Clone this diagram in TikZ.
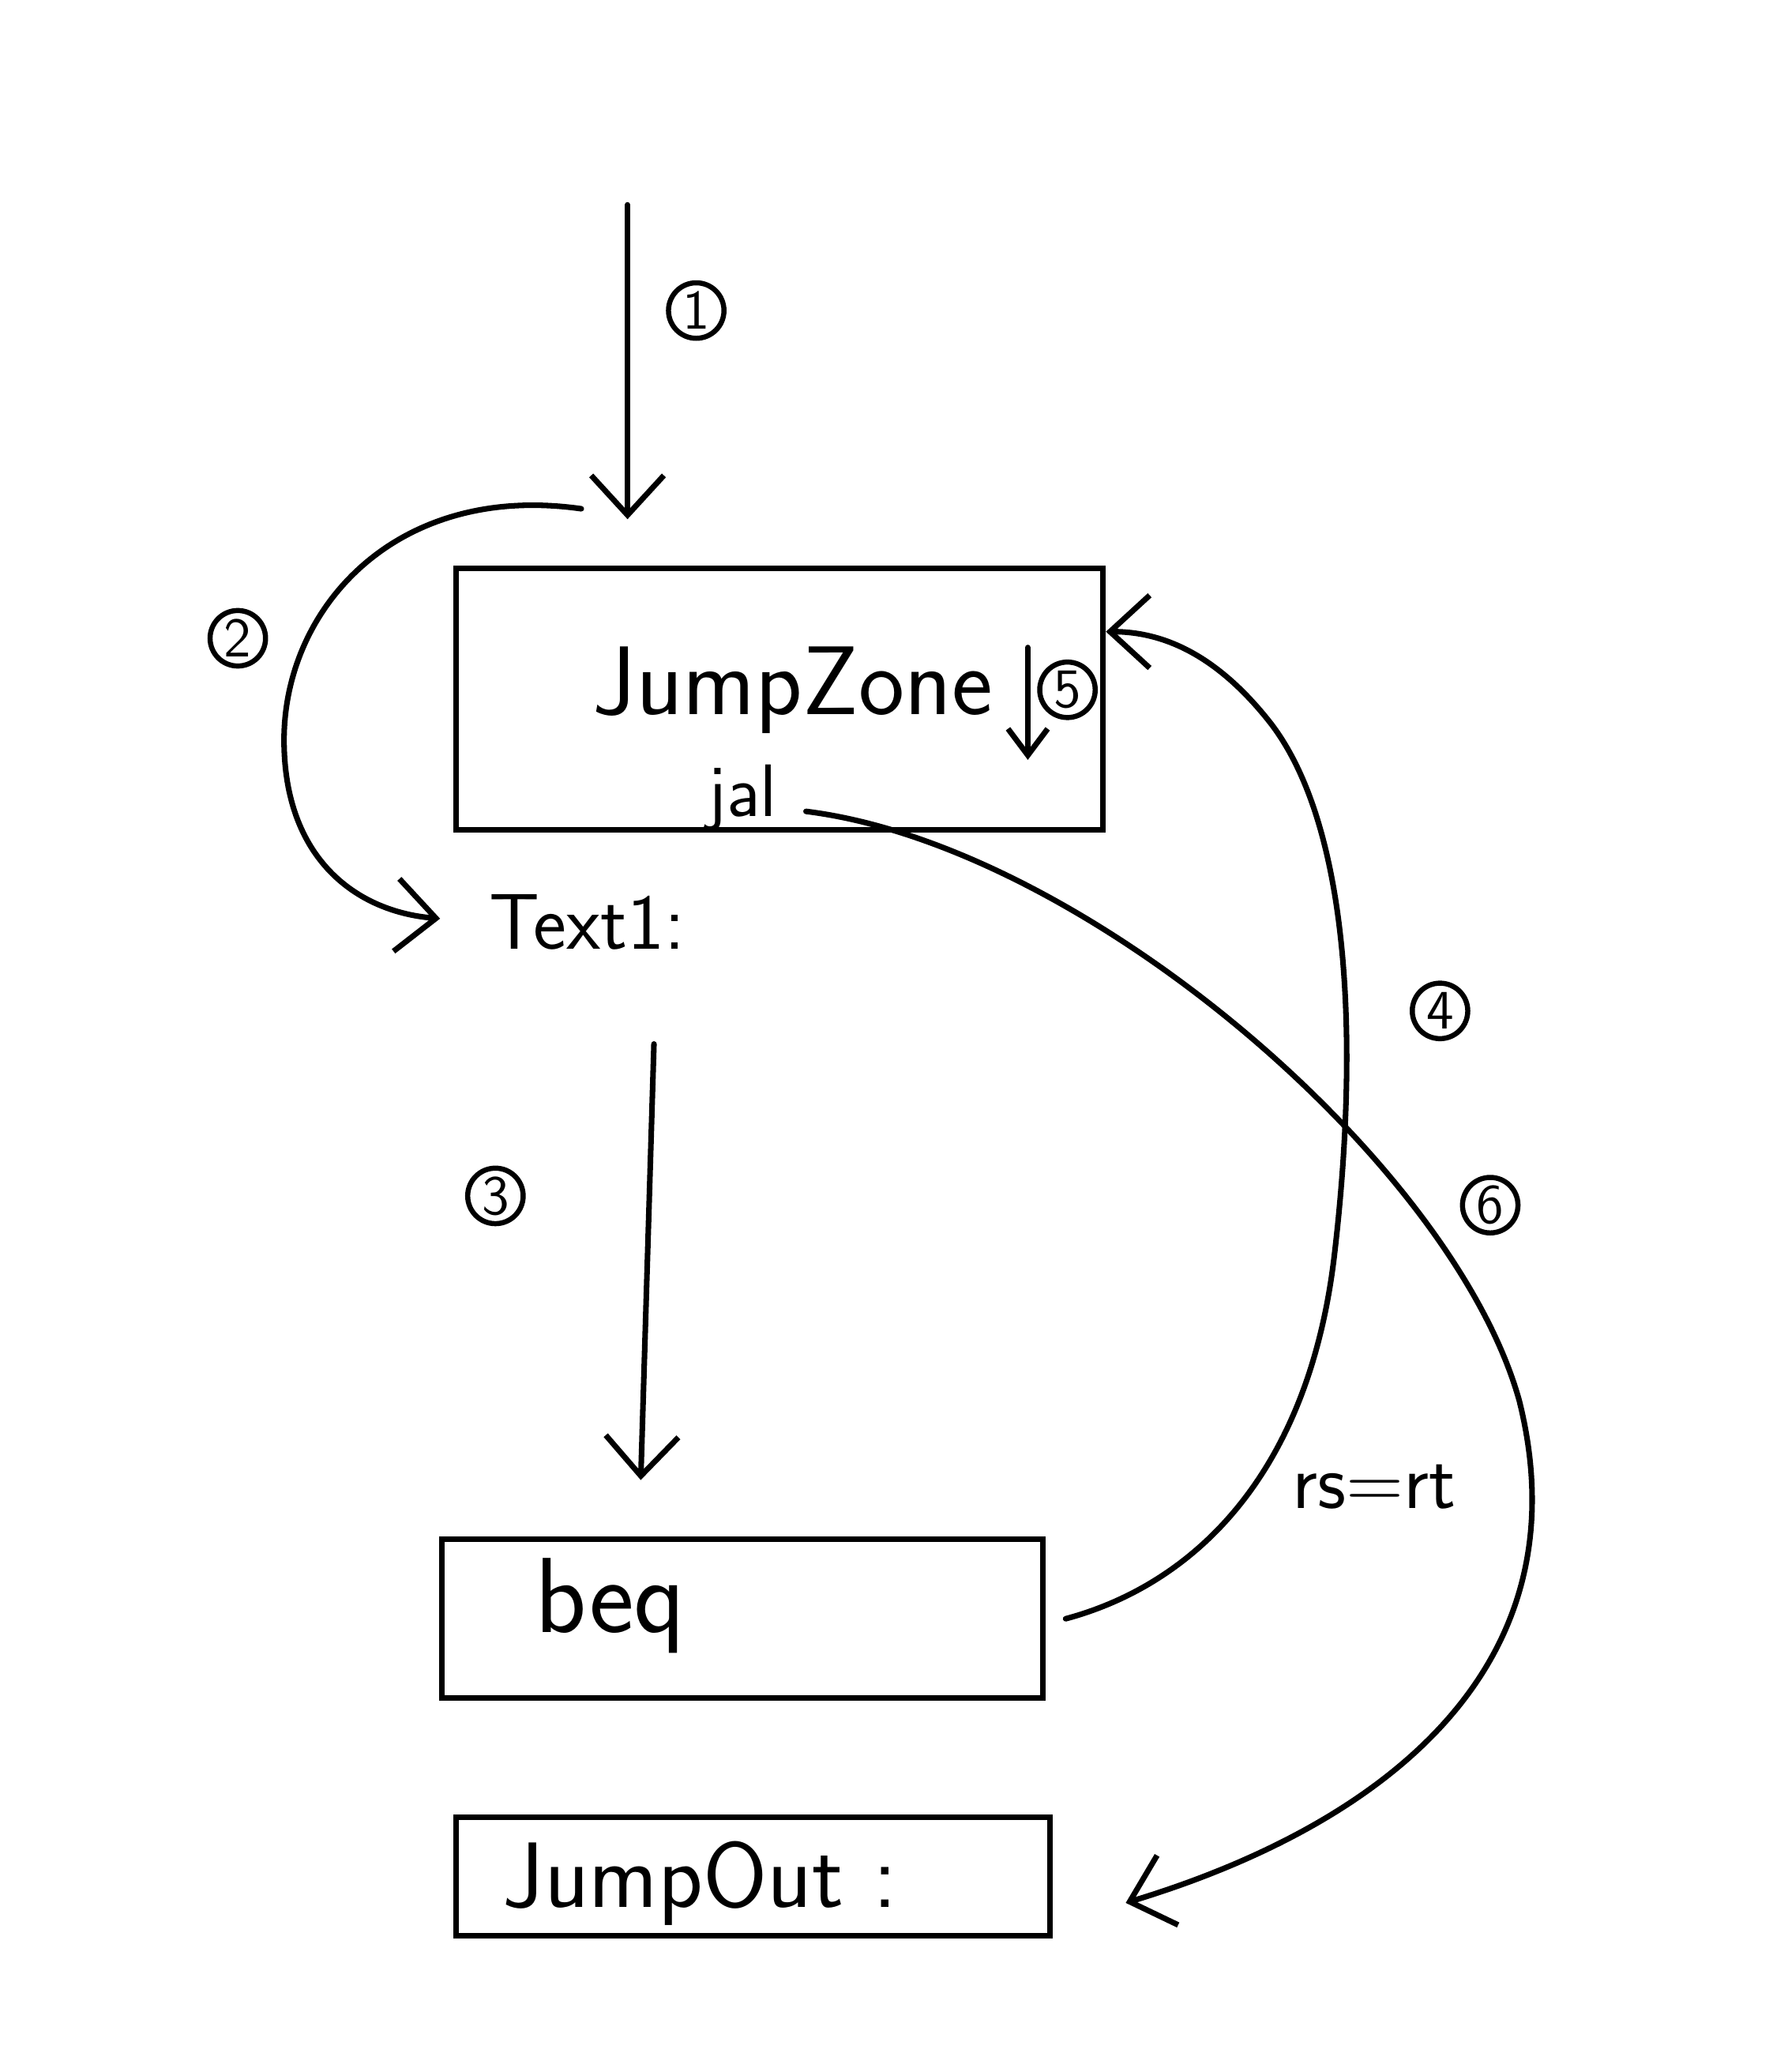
\documentclass[tikz,border=0pt]{standalone}
\usetikzlibrary{arrows.meta}
\begin{document}
\begin{tikzpicture}[x=0.1mm,y=-0.1mm,line width=1.2pt,line cap=round,
	>={Straight Barb[length=3mm,width=5.5mm]},
	box/.style={draw,rectangle,inner sep=0pt},
	lbl/.style={font=\sffamily\fontsize{#1}{#1}\selectfont,inner sep=0pt},
	numcirc/.style={draw,circle,line width=1.1pt,inner sep=0.5pt,minimum size=4.2mm,
		font=\sffamily\fontsize{12}{12}\selectfont}]
\useasboundingbox (0,0) rectangle (1353,1568);
\node[box,minimum width=49mm,minimum height=19.8mm] (zone) at (590,529) {};
\node[lbl=21] (zonetxt) at (600,522) {JumpZone};
\node[lbl=16] (jal) at (562,604) {jal};
\node[lbl=17,anchor=west] (text1) at (368,698) {Text1:};
\node[box,minimum width=45.5mm,minimum height=12mm] (beq) at (562,1225) {};
\node[lbl=23] (beqtxt) at (462,1215) {beq};
\node[box,minimum width=45mm,minimum height=9mm] (out) at (570,1420) {};
\node[lbl=20] (outtxt) at (530,1425) {JumpOut :};
\node[lbl=17] (cond) at (1040,1125) {rs=rt};
\node[numcirc] (n1) at (527,235) {1};
\node[numcirc] (n2) at (180,483) {2};
\node[numcirc] (n3) at (375,905) {3};
\node[numcirc] (n4) at (1090,765) {4};
\node[numcirc] (n5) at (808,522) {5};
\node[numcirc] (n6) at (1128,912) {6};
\coordinate (top) at (475,155);
\coordinate (loop) at (440,385);
\coordinate (down) at (495,790);
\coordinate (downend) at (485,1120);
\coordinate (ret) at (778,490);
\coordinate (retend) at (778,575);
\draw[->,shorten >=3.5mm] (top) -- (top |- zone.north);
\draw[->,shorten >=3.5mm] (loop) .. controls (300,365) and (215,460) .. (215,560)
	.. controls (215,650) and (270,690) .. (text1.west);
\draw[->] (down) -- (downend);
\draw[->,>={Straight Barb[length=2mm,width=3mm]}] (ret) -- (retend);
\draw[->] ([xshift=1.5mm]beq.east) .. controls (900,1200) and (990,1120) .. (1010,950)
	.. controls (1030,780) and (1020,620) .. (960,545)
	.. controls (920,495) and (880,478) .. ([yshift=5.1mm]zone.east);
\draw[->] ([xshift=2mm,yshift=-1mm]jal.east) .. controls (820,640) and (1100,880) .. (1150,1060)
	.. controls (1200,1260) and (1050,1380) .. ([xshift=5.5mm,yshift=-2mm]out.east);
\end{tikzpicture}
\end{document}
